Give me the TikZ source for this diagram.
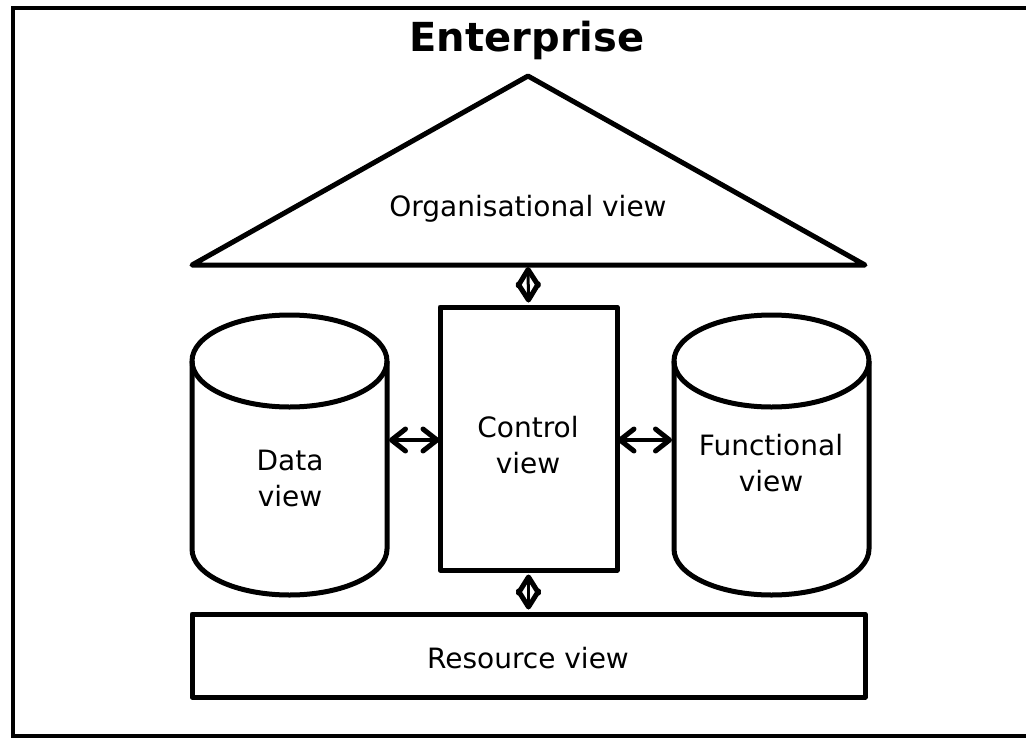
\documentclass[tikz,border=0pt]{standalone}
\usepackage{fontspec}
\setmainfont{DejaVu Sans}
\usetikzlibrary{arrows.meta}
\tikzset{
  hbarb/.tip={Straight Barb[round,length=14pt,width=22pt,line width=5pt]},
  vbarb/.tip={Straight Barb[round,length=16pt,width=20pt,line width=5pt]}}
\begin{document}
\begin{tikzpicture}[x=1pt,y=-1pt,
  outline/.style={draw=black,line width=5pt,line join=round},
  lbl/.style={font=\fontsize{28}{36}\selectfont,align=center,inner sep=0pt},
  link/.style={line width=4.5pt,hbarb-hbarb},
  vlink/.style={line width=3pt,vbarb-vbarb}]
\useasboundingbox (0,0) rectangle (1026,737);
% outer frame (runs past the right and bottom edges)
\draw[line width=4pt] (1040,7.5) -- (13,7.5) -- (13,735.5) -- (1040,735.5);
% title
\node[font=\bfseries\fontsize{40}{44}\selectfont,inner sep=0pt] (title) at (527,40) {Enterprise};
% organisational triangle
\draw[outline] (192,265) -- (528,76) -- (865,265) -- cycle;
\node[lbl] (org) at (528,209) {Organisational view};
\coordinate (orgbase) at (528,267);
% control box
\node[outline,minimum width=177pt,minimum height=263pt,inner sep=0pt] (ctrl) at (528.5,438.5) {};
\node[lbl] at (528,445) {Control\\view};
% resource box
\node[outline,minimum width=673pt,minimum height=83pt,inner sep=0pt] (res) at (528.5,655.5) {};
\node[lbl] at (528,658) {Resource view};
% data cylinder
\draw[outline,fill=white] (192,361) -- (192,549) arc[start angle=180,end angle=360,x radius=97.5,y radius=-46] -- (387,361);
\draw[outline] (289.5,361) ellipse[x radius=97.5,y radius=46];
\coordinate (dataR) at (389,440);
\node[lbl] at (290,478) {Data\\view};
% functional cylinder
\draw[outline,fill=white] (674,361) -- (674,549) arc[start angle=180,end angle=360,x radius=97.5,y radius=-46] -- (869,361);
\draw[outline] (771.5,361) ellipse[x radius=97.5,y radius=46];
\coordinate (funcL) at (672,440);
\node[lbl] at (771,463) {Functional\\view};
% links
\draw[link] (dataR) -- ([xshift=2pt]ctrl.west |- dataR);
\draw[link] ([xshift=-2pt]ctrl.east |- funcL) -- (funcL);
\draw[vlink] (orgbase) -- ([yshift=2pt]ctrl.north);
\draw[vlink] ([yshift=-2pt]ctrl.south) -- ([yshift=2pt]res.north);
\end{tikzpicture}
\end{document}
